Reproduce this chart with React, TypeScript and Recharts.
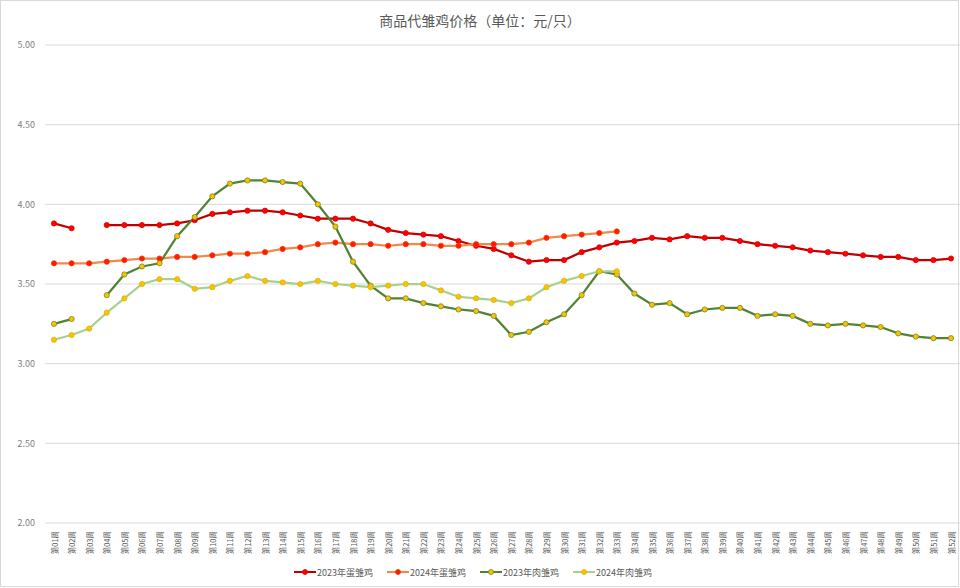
import React from 'react';
import { LineChart, Line, XAxis, YAxis, CartesianGrid, Legend } from 'recharts';

const weeks = [
  '第01周', '第02周', '第03周', '第04周', '第05周', '第06周', '第07周', '第08周', '第09周', '第10周',
  '第11周', '第12周', '第13周', '第14周', '第15周', '第16周', '第17周', '第18周', '第19周', '第20周',
  '第21周', '第22周', '第23周', '第24周', '第25周', '第26周', '第27周', '第28周', '第29周', '第30周',
  '第31周', '第32周', '第33周', '第34周', '第35周', '第36周', '第37周', '第38周', '第39周', '第40周',
  '第41周', '第42周', '第43周', '第44周', '第45周', '第46周', '第47周', '第48周', '第49周', '第50周',
  '第51周', '第52周',
];

const egg2023 = [
  3.88, 3.85, null, 3.87, 3.87, 3.87, 3.87, 3.88, 3.90, 3.94,
  3.95, 3.96, 3.96, 3.95, 3.93, 3.91, 3.91, 3.91, 3.88, 3.84,
  3.82, 3.81, 3.80, 3.77, 3.74, 3.72, 3.68, 3.64, 3.65, 3.65,
  3.70, 3.73, 3.76, 3.77, 3.79, 3.78, 3.80, 3.79, 3.79, 3.77,
  3.75, 3.74, 3.73, 3.71, 3.70, 3.69, 3.68, 3.67, 3.67, 3.65,
  3.65, 3.66,
];

const egg2024 = [
  3.63, 3.63, 3.63, 3.64, 3.65, 3.66, 3.66, 3.67, 3.67, 3.68,
  3.69, 3.69, 3.70, 3.72, 3.73, 3.75, 3.76, 3.75, 3.75, 3.74,
  3.75, 3.75, 3.74, 3.74, 3.75, 3.75, 3.75, 3.76, 3.79, 3.80,
  3.81, 3.82, 3.83,
];

const broiler2023 = [
  3.25, 3.28, null, 3.43, 3.56, 3.61, 3.63, 3.80, 3.92, 4.05,
  4.13, 4.15, 4.15, 4.14, 4.13, 4.00, 3.86, 3.64, 3.49, 3.41,
  3.41, 3.38, 3.36, 3.34, 3.33, 3.30, 3.18, 3.20, 3.26, 3.31,
  3.43, 3.58, 3.56, 3.44, 3.37, 3.38, 3.31, 3.34, 3.35, 3.35,
  3.30, 3.31, 3.30, 3.25, 3.24, 3.25, 3.24, 3.23, 3.19, 3.17,
  3.16, 3.16,
];

const broiler2024 = [
  3.15, 3.18, 3.22, 3.32, 3.41, 3.50, 3.53, 3.53, 3.47, 3.48,
  3.52, 3.55, 3.52, 3.51, 3.50, 3.52, 3.50, 3.49, 3.48, 3.49,
  3.50, 3.50, 3.46, 3.42, 3.41, 3.40, 3.38, 3.41, 3.48, 3.52,
  3.55, 3.58, 3.58,
];

const yTicks = [2.0, 2.5, 3.0, 3.5, 4.0, 4.5, 5.0];

const seriesNames = ['2023年蛋雏鸡', '2024年蛋雏鸡', '2023年肉雏鸡', '2024年肉雏鸡'];

const data = weeks.map((w, i) => ({
  week: w,
  egg2023: egg2023[i] ?? null,
  egg2024: egg2024[i] ?? null,
  broiler2023: broiler2023[i] ?? null,
  broiler2024: broiler2024[i] ?? null,
}));

const FONT = '"Noto Sans CJK SC", "Noto Sans", sans-serif';

const series = [
  { key: 'egg2023', name: seriesNames[0], line: '#C00000', fill: '#FF0000', stroke: '#E00000' },
  { key: 'egg2024', name: seriesNames[1], line: '#F08A4B', fill: '#FF1A00', stroke: '#FF3300' },
  { key: 'broiler2023', name: seriesNames[2], line: '#548235', fill: '#FFC000', stroke: '#6E8B2A' },
  { key: 'broiler2024', name: seriesNames[3], line: '#A9D18E', fill: '#FFC000', stroke: '#D4B800' },
];

const XTick = (props: any) => {
  const { x, y, payload } = props;
  return (
    <text
      x={x}
      y={y}
      transform={`rotate(-90, ${x}, ${y})`}
      textAnchor="end"
      dominantBaseline="central"
      fontSize={7.5}
      fill="#595959"
      fontFamily={FONT}
    >
      {payload.value}
    </text>
  );
};

const renderLegend = () => (
  <div
    style={{
      display: 'flex',
      justifyContent: 'center',
      alignItems: 'center',
      fontFamily: FONT,
      fontSize: 9,
      color: '#595959',
      height: 20,
    }}
  >
    {series.map((s) => (
      <div key={s.key} style={{ display: 'flex', alignItems: 'center', width: 93 }}>
        <svg width={22} height={10} style={{ marginRight: 1 }}>
          <line x1={0} y1={5} x2={22} y2={5} stroke={s.line} strokeWidth={2} />
          <circle cx={11} cy={5} r={2.5} fill={s.fill} stroke={s.stroke} strokeWidth={0.8} />
        </svg>
        <span>{s.name}</span>
      </div>
    ))}
  </div>
);

export default function App() {
  return (
    <div
      style={{
        position: 'absolute',
        left: 0,
        top: 0,
        width: 960,
        height: 588,
        background: '#fff',
      }}
    >
      <div
        style={{
          position: 'absolute',
          left: 0,
          top: 0,
          width: 959,
          height: 587,
          border: '1.5px solid #D9D9D9',
          boxSizing: 'border-box',
          pointerEvents: 'none',
          zIndex: 2,
        }}
      />
      <div
        style={{
          position: 'absolute',
          left: 0,
          top: 10,
          width: 960,
          textAlign: 'center',
          fontFamily: FONT,
          fontSize: 14,
          color: '#595959',
          zIndex: 3,
        }}
      >
        商品代雏鸡价格（单位：元/只）
      </div>
      <LineChart
        width={960}
        height={588}
        data={data}
        margin={{ top: 45, right: 0, bottom: 6, left: 0 }}
      >
        <CartesianGrid vertical={false} stroke="#D9D9D9" strokeWidth={1} />
        <XAxis
          dataKey="week"
          interval={0}
          height={39}
          axisLine={false}
          tickLine={false}
          tick={<XTick />}
          tickMargin={2}
          padding={{ left: 9, right: 9 }}
        />
        <YAxis
          width={45}
          domain={[2, 5]}
          ticks={yTicks}
          axisLine={false}
          tickLine={false}
          tickMargin={4}
          tickFormatter={(v: number) => v.toFixed(2)}
          tick={{ fontSize: 9, fill: '#7F7F7F', fontFamily: FONT }}
        />
        <Legend verticalAlign="bottom" height={20} content={renderLegend} />
        {series.map((s) => (
          <Line
            key={s.key}
            type="linear"
            dataKey={s.key}
            name={s.name}
            stroke={s.line}
            strokeWidth={2.25}
            dot={{ r: 2.6, fill: s.fill, stroke: s.stroke, strokeWidth: 0.8 }}
            activeDot={false}
            isAnimationActive={false}
            connectNulls={false}
          />
        ))}
      </LineChart>
    </div>
  );
}
